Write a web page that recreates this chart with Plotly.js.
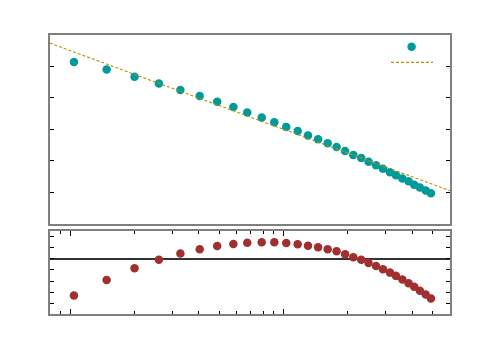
<!DOCTYPE html>
<html>
<head>
<meta charset="utf-8">
<script src="https://cdn.plot.ly/plotly-3.0.1.min.js"></script>
<style>html,body{margin:0;padding:0;background:#fff;}#chart{width:500px;height:350px;}</style>
</head>
<body>
<div id="chart"></div>
<script>
// Data
const xData = [1.04, 1.48, 2.0, 2.6, 3.28, 4.04, 4.88, 5.81, 6.75, 7.89, 9.04, 10.28, 11.63, 13.0, 14.5, 16.08, 17.7, 19.4, 21.2, 23.1, 25.0, 27.1, 29.2, 31.5, 33.6, 36.0, 38.5, 40.9, 43.5, 46.3, 49.0];
const yData = [5.14, 4.90, 4.67, 4.46, 4.25, 4.06, 3.88, 3.71, 3.54, 3.38, 3.23, 3.08, 2.95, 2.81, 2.69, 2.56, 2.44, 2.31, 2.19, 2.09, 1.97, 1.86, 1.75, 1.64, 1.54, 1.44, 1.35, 1.24, 1.15, 1.06, 0.97];
const residData = [-3.29, -1.90, -0.86, -0.09, 0.45, 0.84, 1.13, 1.31, 1.43, 1.46, 1.46, 1.40, 1.28, 1.16, 1.01, 0.84, 0.66, 0.39, 0.12, -0.09, -0.38, -0.65, -0.94, -1.25, -1.54, -1.87, -2.19, -2.52, -2.88, -3.21, -3.56];
const fitX = [0.8, 60.2];
const fitY = [5.745, 1.05];
const topYTicks = [1, 2, 3, 4, 5];
const botYTicks = [-4, -3, -2, -1, 0, 1, 2];
const majorXTicks = [1, 10];
const minorXTicks = [0.9, 2, 3, 4, 5, 6, 7, 8, 9, 20, 30, 40, 50];

const frame = '#808080';
const xr = [Math.log10(0.803), Math.log10(60.2)];

const traces = [
  {x: xData, y: yData, xaxis: 'x', yaxis: 'y', mode: 'markers', type: 'scatter', name: '',
   marker: {color: '#009a9a', size: 8.5}, legend: 'legend'},
  {x: fitX, y: fitY, xaxis: 'x', yaxis: 'y', mode: 'lines', type: 'scatter', name: '',
   line: {color: '#b8900b', width: 1.1, dash: '3px,2px'}, legend: 'legend2'},
  {x: xData, y: residData, xaxis: 'x2', yaxis: 'y2', mode: 'markers', type: 'scatter', name: '',
   marker: {color: '#a03030', size: 8.5}, showlegend: false}
];

const layout = {
  width: 500, height: 350,
  margin: {l: 50, r: 50, t: 35, b: 36},
  paper_bgcolor: '#fff', plot_bgcolor: '#fff',
  font: {family: 'DejaVu Sans', size: 10, color: '#000'},
  showlegend: true,
  legend: {x: 0.854, xanchor: 'left', y: 0.958, yanchor: 'middle', bgcolor: 'rgba(0,0,0,0)', borderwidth: 0},
  legend2: {x: 0.84, xanchor: 'left', y: 0.902, yanchor: 'middle', bgcolor: 'rgba(0,0,0,0)', borderwidth: 0, itemwidth: 42},
  xaxis: {type: 'log', range: xr, domain: [0, 1], anchor: 'y', showticklabels: false, ticks: '',
          showgrid: false, zeroline: false, showline: true, linecolor: frame, linewidth: 2, mirror: true},
  yaxis: {range: [0, 6], domain: [0.3233, 1], anchor: 'x', tickmode: 'array', tickvals: topYTicks,
          showticklabels: false, ticks: 'inside', ticklen: 4, tickcolor: '#000', tickwidth: 1,
          showgrid: false, zeroline: false, showline: true, linecolor: frame, linewidth: 2, mirror: 'ticks'},
  xaxis2: {type: 'log', range: xr, domain: [0, 1], anchor: 'y2', showticklabels: false,
           tickmode: 'array', tickvals: majorXTicks, ticks: 'inside', ticklen: 5, tickcolor: '#000', tickwidth: 1,
           minor: {tickmode: 'array', tickvals: minorXTicks, ticks: 'inside', ticklen: 3, tickcolor: '#000', tickwidth: 1, showgrid: false},
           showgrid: false, zeroline: false, showline: true, linecolor: frame, linewidth: 2, mirror: 'ticks'},
  yaxis2: {range: [-4.95, 2.5], domain: [0, 0.2986], anchor: 'x2', tickmode: 'array', tickvals: botYTicks,
           showticklabels: false, ticks: 'inside', ticklen: 4, tickcolor: '#000', tickwidth: 1,
           showgrid: false, zeroline: true, zerolinecolor: '#333', zerolinewidth: 2,
           showline: true, linecolor: frame, linewidth: 2, mirror: 'ticks'}
};

Plotly.newPlot('chart', traces, layout, {staticPlot: true, displayModeBar: false});
</script>
</body>
</html>
